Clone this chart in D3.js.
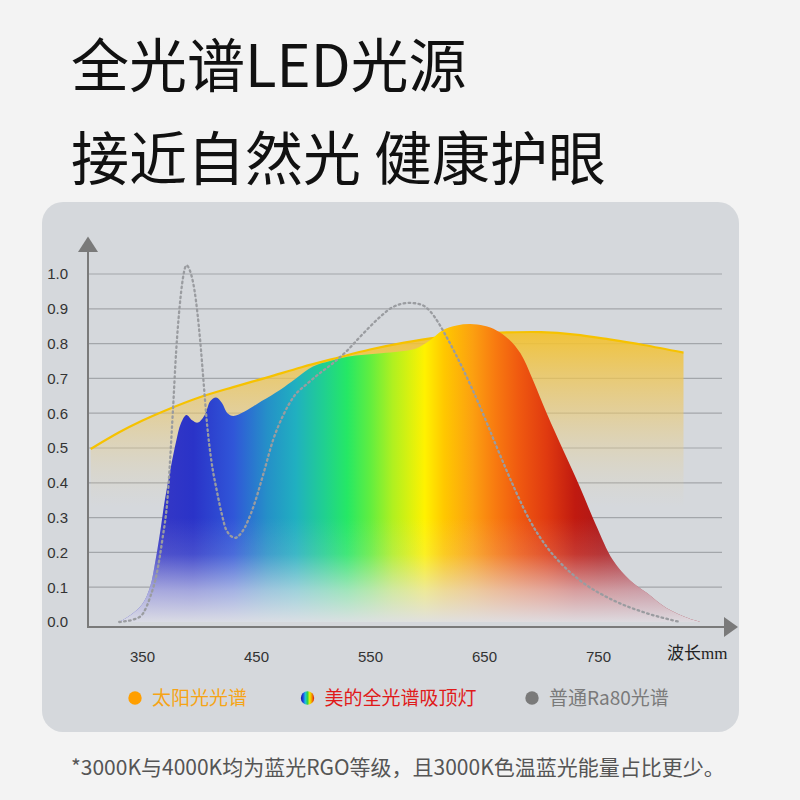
<!DOCTYPE html>
<html><head><meta charset="utf-8">
<script src="https://cdn.jsdelivr.net/npm/d3@7"></script>
<style>html,body{margin:0;padding:0;background:#f3f3f3;}svg{display:block;}</style>
</head><body>
<script>
// ---- data ----
const titleLines = ["全光谱LED光源", "接近自然光 健康护眼"];
const xTicks = [350, 450, 550, 650, 750];
const yTicks = [0, 0.1, 0.2, 0.3, 0.4, 0.5, 0.6, 0.7, 0.8, 0.9, 1.0];
const xAxisLabel = "波长mm";
const legendLabels = ["太阳光光谱", "美的全光谱吸顶灯", "普通Ra80光谱"];
const footnote = "*3000K与4000K均为蓝光RGO等级，且3000K色温蓝光能量占比更少。";

const sunNm  = [305, 330, 350, 370, 400, 430, 460, 490, 520, 550, 580, 610, 640, 670, 700, 730, 760, 790, 825];
const sunVal = [0.497, 0.545, 0.578, 0.607, 0.645, 0.675, 0.703, 0.732, 0.758, 0.783, 0.803, 0.818, 0.827, 0.832, 0.833, 0.826, 0.812, 0.796, 0.774];

const mideaNm  = [330, 340, 350, 357, 362, 366, 370, 375, 380, 384, 389, 394, 399, 405, 410, 415, 420, 425, 430, 440, 455, 471, 485, 500, 515, 530, 545, 560, 576, 590, 603, 614, 626, 638, 650, 661, 672, 682, 693, 705, 720, 734, 748, 763, 778, 793, 810, 830, 840];
const mideaVal = [0, 0.02, 0.05, 0.10, 0.18, 0.26, 0.35, 0.44, 0.52, 0.57, 0.595, 0.58, 0.573, 0.595, 0.635, 0.645, 0.63, 0.60, 0.592, 0.605, 0.635, 0.667, 0.70, 0.734, 0.75, 0.762, 0.768, 0.772, 0.777, 0.785, 0.81, 0.839, 0.852, 0.856, 0.851, 0.838, 0.812, 0.772, 0.695, 0.60, 0.49, 0.389, 0.28, 0.178, 0.12, 0.083, 0.04, 0.01, 0];

const ra80Nm  = [330, 345, 351, 357, 363, 368, 372, 377, 380, 383, 386, 389, 392, 396, 401, 404, 407, 411, 415.5, 420, 424, 431.6, 438, 447.6, 456, 465, 474, 483, 495, 506, 518, 530, 540, 550, 560, 570, 585, 595, 603, 610, 617, 632, 646.5, 661, 676, 690, 705, 720, 734, 763, 793, 822];
const ra80Val = [0, 0.01, 0.025, 0.07, 0.14, 0.24, 0.34, 0.60, 0.78, 0.906, 0.99, 1.025, 1.01, 0.954, 0.81, 0.69, 0.571, 0.46, 0.379, 0.31, 0.264, 0.242, 0.26, 0.33, 0.42, 0.523, 0.595, 0.647, 0.685, 0.715, 0.745, 0.78, 0.815, 0.849, 0.88, 0.905, 0.917, 0.912, 0.892, 0.86, 0.82, 0.724, 0.619, 0.504, 0.389, 0.293, 0.216, 0.16, 0.12, 0.063, 0.025, 0];

const rainbowNm  = [350, 395, 430, 460, 485, 510, 530, 550, 570, 598, 615, 640, 660, 680, 705, 730, 750, 790];
const rainbowCol = ["#3a3ac4", "#2a33c8", "#3056d8", "#2590c8", "#20b0c0", "#20d090", "#25e865", "#60ee40", "#b0f020", "#fff200", "#ffc800", "#fca010", "#f87a10", "#f05a10", "#e03a10", "#c01a10", "#b01818", "#a02030"];

// ---- drawing ----
const W = 800, H = 800;
const svg = d3.select("body").append("svg").attr("width", W).attr("height", H);
svg.append("rect").attr("width", W).attr("height", H).attr("fill", "#f3f3f3");

const x = d3.scaleLinear().domain([350, 750]).range([142, 598]);
const y = d3.scaleLinear().domain([0, 1]).range([622, 274]);
const axisY = 627, axisX = 88;
const smooth = d3.curveCatmullRom.alpha(0.5);

const defs = svg.append("defs");

// titles
const cjk = "'Noto Sans CJK SC','Noto Sans',sans-serif";
svg.selectAll("text.title").data(titleLines).join("text")
  .attr("class", "title")
  .attr("x", 71).attr("y", (d, i) => 87 + i * 93)
  .attr("font-family", cjk).attr("font-size", 58).attr("font-weight", 400)
  .attr("fill", "#111").text(d => d);

// panel
svg.append("rect").attr("x", 42).attr("y", 202).attr("width", 697).attr("height", 530)
  .attr("rx", 21).attr("fill", "#d5d8dc");

// gridlines
svg.append("g").selectAll("line").data(yTicks.filter(d => d > 0)).join("line")
  .attr("x1", axisX).attr("x2", 722)
  .attr("y1", d => y(d)).attr("y2", d => y(d))
  .attr("stroke", "#a3a6aa").attr("stroke-width", 1.2);

// sun gradient
const sunGrad = defs.append("linearGradient").attr("id", "sunGrad")
  .attr("gradientUnits", "userSpaceOnUse")
  .attr("x1", 0).attr("x2", 0).attr("y1", y(0.84)).attr("y2", y(0.33));
sunGrad.append("stop").attr("offset", 0).attr("stop-color", "#f3c12c").attr("stop-opacity", 0.95);
sunGrad.append("stop").attr("offset", 0.45).attr("stop-color", "#ecc86a").attr("stop-opacity", 0.6);
sunGrad.append("stop").attr("offset", 1).attr("stop-color", "#e0d4b0").attr("stop-opacity", 0);

const sunData = sunNm.map((n, i) => ({ n, v: sunVal[i] }));
const sunArea = d3.area().x(d => x(d.n)).y0(y(0.3)).y1(d => y(d.v)).curve(smooth);
const sunLine = d3.line().x(d => x(d.n)).y(d => y(d.v)).curve(smooth);
svg.append("path").attr("d", sunArea(sunData)).attr("fill", "url(#sunGrad)");
svg.append("path").attr("d", sunLine(sunData)).attr("fill", "none")
  .attr("stroke", "#f6c200").attr("stroke-width", 2.2);

// rainbow spectrum
const rbGrad = defs.append("linearGradient").attr("id", "rbGrad")
  .attr("gradientUnits", "userSpaceOnUse")
  .attr("x1", x(rainbowNm[0])).attr("x2", x(rainbowNm[rainbowNm.length - 1])).attr("y1", 0).attr("y2", 0);
const n0 = rainbowNm[0], n1 = rainbowNm[rainbowNm.length - 1];
rainbowNm.forEach((n, i) => rbGrad.append("stop").attr("offset", (n - n0) / (n1 - n0)).attr("stop-color", rainbowCol[i]));

const fadeGrad = defs.append("linearGradient").attr("id", "fadeGrad")
  .attr("gradientUnits", "userSpaceOnUse")
  .attr("x1", 0).attr("x2", 0).attr("y1", y(0.3)).attr("y2", y(0));
fadeGrad.append("stop").attr("offset", 0).attr("stop-color", "#e4e4ea").attr("stop-opacity", 0);
fadeGrad.append("stop").attr("offset", 0.35).attr("stop-color", "#e4e4ea").attr("stop-opacity", 0.15);
fadeGrad.append("stop").attr("offset", 0.7).attr("stop-color", "#e4e4ea").attr("stop-opacity", 0.65);
fadeGrad.append("stop").attr("offset", 1).attr("stop-color", "#dfe0e5").attr("stop-opacity", 0.97);

const mideaData = mideaNm.map((n, i) => ({ n, v: mideaVal[i] }));
const mideaArea = d3.area().x(d => x(d.n)).y0(y(0)).y1(d => y(d.v)).curve(smooth);
svg.append("path").attr("d", mideaArea(mideaData)).attr("fill", "url(#rbGrad)");
svg.append("path").attr("d", mideaArea(mideaData)).attr("fill", "url(#fadeGrad)");

// Ra80 dotted
const ra80Data = ra80Nm.map((n, i) => ({ n, v: ra80Val[i] }));
const raLine = d3.line().x(d => x(d.n)).y(d => y(Math.max(0, d.v))).curve(d3.curveMonotoneX);
svg.append("path").attr("d", raLine(ra80Data)).attr("fill", "none")
  .attr("stroke", "#9a9ca0").attr("stroke-width", 2.3)
  .attr("stroke-dasharray", "1.6,3.4").attr("stroke-linecap", "round");

// axes
const axisColor = "#7a7a7a";
const yAxis = d3.axisLeft(y).tickValues(yTicks).tickFormat(d3.format(".1f")).tickSize(0).tickPadding(20);
const gy = svg.append("g").attr("transform", `translate(${axisX},0)`).call(yAxis);
gy.select(".domain").remove();
gy.selectAll("text").attr("font-family", "'Liberation Sans',Arial,sans-serif").attr("font-size", 15).attr("fill", "#333");

const xAxis = d3.axisBottom(x).tickValues(xTicks).tickFormat(d3.format("d")).tickSize(0).tickPadding(24);
const gx = svg.append("g").attr("transform", `translate(0,${axisY})`).call(xAxis);
gx.select(".domain").remove();
gx.selectAll("text").attr("font-family", "'Liberation Sans',Arial,sans-serif").attr("font-size", 15).attr("fill", "#333");

svg.append("line").attr("x1", axisX).attr("x2", axisX).attr("y1", 250).attr("y2", axisY)
  .attr("stroke", axisColor).attr("stroke-width", 2);
svg.append("line").attr("x1", axisX - 1).attr("x2", 726).attr("y1", axisY).attr("y2", axisY)
  .attr("stroke", axisColor).attr("stroke-width", 2);
svg.append("path").attr("d", `M${axisX},236.5 L${axisX + 10},252 L${axisX - 10},252 Z`).attr("fill", axisColor);
svg.append("path").attr("d", `M738,${axisY} L724,${axisY - 10} L724,${axisY + 10} Z`).attr("fill", axisColor);

svg.append("text").attr("x", 667).attr("y", 659)
  .attr("font-family", cjk).attr("font-size", 17).attr("fill", "#222")
  .text(xAxisLabel.slice(0, 2))
  .append("tspan").attr("font-family", "'Liberation Serif',serif").attr("font-size", 17).text(xAxisLabel.slice(2));

// legend
const rbDot = defs.append("linearGradient").attr("id", "rbDot").attr("x1", 0).attr("x2", 1).attr("y1", 0).attr("y2", 0);
["#1a1a9a", "#2040e0", "#20c0e0", "#30d050", "#f0f000", "#f09000", "#e01010"].forEach((c, i, a) =>
  rbDot.append("stop").attr("offset", i / (a.length - 1)).attr("stop-color", c));

const legendX = [135, 307.5, 532];
const legendDotFill = ["#ff9f00", "url(#rbDot)", "#7a7a7a"];
const legendTextColor = ["#f6a416", "#e01a1a", "#7a7a7a"];
const lg = svg.append("g").selectAll("g").data(legendLabels).join("g")
  .attr("transform", (d, i) => `translate(${legendX[i]},698)`);
lg.append("circle").attr("r", 6.7).attr("fill", (d, i) => legendDotFill[i]);
lg.append("text").attr("x", 17).attr("y", 7)
  .attr("font-family", cjk).attr("font-size", 19).attr("fill", (d, i) => legendTextColor[i])
  .text(d => d);

// footnote
svg.append("text").attr("x", 71).attr("y", 775)
  .attr("font-family", cjk).attr("font-size", 21).attr("fill", "#555").text(footnote);
</script>
</body></html>
